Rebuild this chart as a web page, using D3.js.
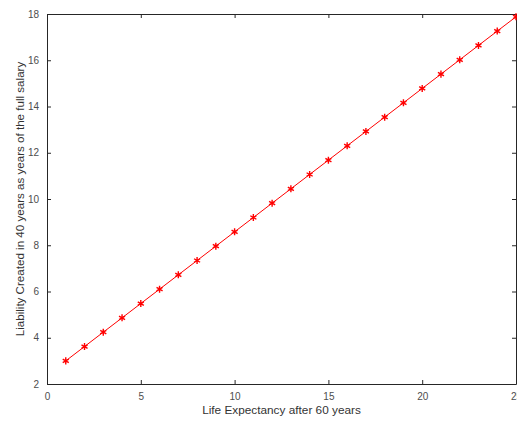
<!DOCTYPE html>
<html>
<head>
<meta charset="utf-8">
<script src="https://cdn.jsdelivr.net/npm/d3@7"></script>
<style>
body { margin: 0; background: #fff; }
text { font-family: "Liberation Sans", Arial, sans-serif; }
</style>
</head>
<body>
<div class="chart"></div>
<script>
// life expectancy after 60 (years)
const years = [1, 2, 3, 4, 5, 6, 7, 8, 9, 10, 11, 12, 13, 14, 15, 16, 17, 18, 19, 20, 21, 22, 23, 24, 25]
// liability in years of full salary
const liability = [3.0, 3.62, 4.24, 4.86, 5.48, 6.1, 6.72, 7.34, 7.96, 8.58, 9.2, 9.82, 10.44,
  11.06, 11.68, 12.3, 12.92, 13.54, 14.16, 14.78, 15.4, 16.02, 16.64, 17.26, 17.88]
const xTicks = [0, 5, 10, 15, 20, 25]
const yTicks = [2, 4, 6, 8, 10, 12, 14, 16, 18]

const width = 517, height = 422
const margin = {top: 14, right: 1, bottom: 38, left: 47}

let svg = d3.select(".chart").append("svg")
  .attr("width", width)
  .attr("height", height)

let x = d3.scaleLinear().domain([0, 25]).range([margin.left, width - margin.right])
let y = d3.scaleLinear().domain([2, 18]).range([height - margin.bottom, margin.top])

const axisColor = "#262626"
const labelColor = "#4d4d4d"

const styleAxis = g => {
  g.select(".domain").attr("stroke", axisColor).attr("stroke-width", 1)
  g.selectAll(".tick line").attr("stroke", axisColor)
  g.selectAll(".tick text").attr("fill", labelColor).attr("font-size", 10)
    .attr("font-family", "Liberation Sans, Arial, sans-serif")
}

// bottom / left with labels, top / right mirrored ticks only
svg.append("g")
  .attr("transform", `translate(0,${y(2)})`)
  .call(d3.axisBottom(x).tickValues(xTicks).tickSize(-4).tickSizeOuter(0).tickPadding(9))
  .call(styleAxis)

svg.append("g")
  .attr("transform", `translate(${x(0)},0)`)
  .call(d3.axisLeft(y).tickValues(yTicks).tickSize(-4).tickSizeOuter(0).tickPadding(8))
  .call(styleAxis)

svg.append("g")
  .attr("transform", `translate(0,${y(18)})`)
  .call(d3.axisTop(x).tickValues(xTicks).tickSize(-4).tickSizeOuter(0).tickFormat(""))
  .call(styleAxis)

svg.append("g")
  .attr("transform", `translate(${x(25)},0)`)
  .call(d3.axisRight(y).tickValues(yTicks).tickSize(-4).tickSizeOuter(0).tickFormat(""))
  .call(styleAxis)

let points = years.map((d, i) => [d, liability[i]])

svg.append("path")
  .datum(points)
  .attr("fill", "none")
  .attr("stroke", "#ff0000")
  .attr("stroke-width", 1)
  .attr("d", d3.line().x(d => x(d[0])).y(d => y(d[1])))

// asterisk markers
let star = d3.symbol().type(d3.symbolAsterisk).size(34)
svg.append("g").selectAll("path")
  .data(points)
  .enter()
  .append("path")
  .attr("d", star)
  .attr("transform", d => `translate(${x(d[0])},${y(d[1])})`)
  .attr("fill", "none")
  .attr("stroke", "#ff0000")
  .attr("stroke-width", 1.4)

svg.append("text")
  .attr("x", (x(0) + x(25)) / 2)
  .attr("y", 414)
  .attr("text-anchor", "middle")
  .attr("font-size", 11.8)
  .attr("fill", "#333")
  .text("Life Expectancy after 60 years")

svg.append("text")
  .attr("transform", `translate(24,${(y(2) + y(18)) / 2}) rotate(-90)`)
  .attr("text-anchor", "middle")
  .attr("font-size", 11.6)
  .attr("fill", "#333")
  .text("Liability Created in 40 years as years of the full salary")
</script>
</body>
</html>
